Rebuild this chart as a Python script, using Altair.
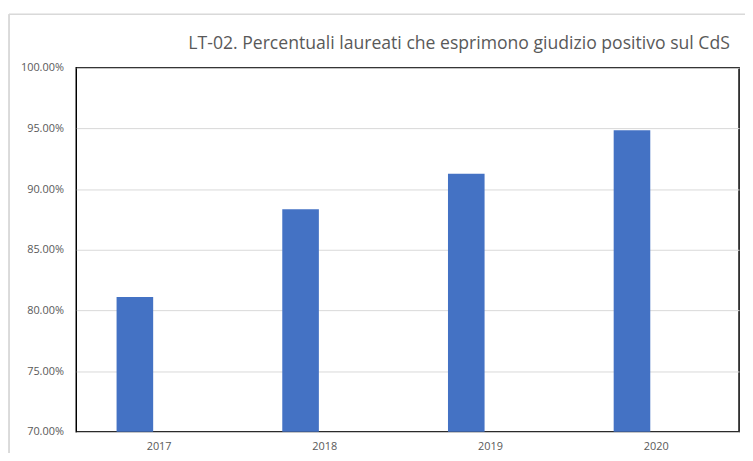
import altair as alt
import pandas as pd

years = ["2017", "2018", "2019", "2020"]
values = [0.8110, 0.8835, 0.9127, 0.9485]
series = ["A", "A", "A", "A"]
title_text = "LT-02. Percentuali laureati che esprimono giudizio positivo sul CdS"

df = pd.DataFrame({"year": years, "value": values, "series": series})

W, H = 670, 368

bars = alt.Chart(df).mark_bar(color="#4472C4").encode(
    x=alt.X("year:N", sort=years,
            scale=alt.Scale(paddingInner=0.4866, paddingOuter=0.2433),
            axis=alt.Axis(title=None, labelAngle=0, ticks=False, domain=False,
                          labelColor="#595959", labelFontSize=11,
                          labelFont="Open Sans", labelPadding=9)),
    xOffset=alt.XOffset("series:N", scale=alt.Scale(domain=["A", "B"], paddingInner=0.245, paddingOuter=0)),
    y=alt.Y("value:Q", scale=alt.Scale(domain=[0.70, 1.00], zero=False, nice=False),
            axis=alt.Axis(title=None, format=".2%", values=[0.70, 0.75, 0.80, 0.85, 0.90, 0.95, 1.00],
                          ticks=False, domain=False, grid=True, gridColor="#d9d9d9", gridWidth=1,
                          labelColor="#595959", labelFontSize=11, labelFont="Open Sans",
                          labelPadding=13)),
    y2=alt.datum(0.70),
)

frame_v = alt.Chart(df).mark_rule(color="#d9d9d9", strokeWidth=1, clip=False).encode(
    x=alt.value(-68), y=alt.value(-54), y2=alt.value(H + 40)
)
frame_h = alt.Chart(df).mark_rule(color="#d9d9d9", strokeWidth=1, clip=False).encode(
    x=alt.value(-68), x2=alt.value(W + 20), y=alt.value(-54)
)
title = alt.Chart(pd.DataFrame({"t": [title_text]})).mark_text(
    align="center", baseline="alphabetic", fontSize=17.8, font="Open Sans",
    color="#595959", clip=False
).encode(text="t:N", x=alt.value(387), y=alt.value(-19))

chart = alt.layer(frame_v, frame_h, bars, title).properties(
    width=W, height=H,
    autosize=alt.AutoSizeParams(type="none"),
    padding={"left": 69, "top": 58, "right": 6, "bottom": 19},
).configure(background="white").configure_view(stroke="#000000", strokeWidth=1.5)

chart.save("out.html", embed_options={"renderer": "svg", "actions": False})
